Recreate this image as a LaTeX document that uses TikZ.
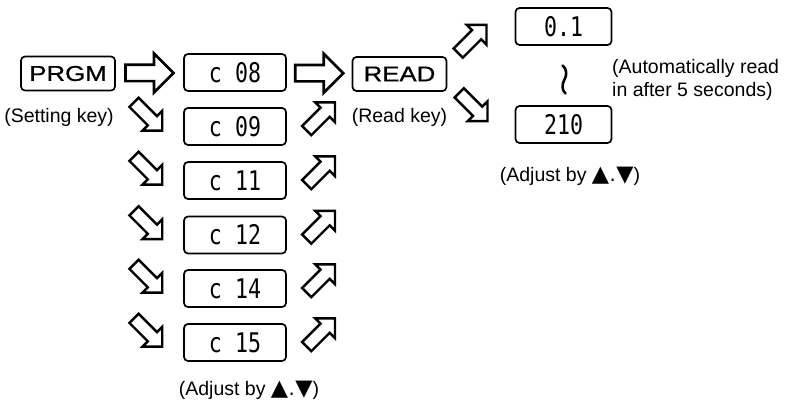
\documentclass[tikz,border=0pt]{standalone}
\usepackage{fontspec}
\setmainfont{Liberation Sans}
\newfontfamily\lcd{DejaVu Sans Mono}
\newfontfamily\keyfont[FakeBold=0.7]{Liberation Sans}
\newfontfamily\symfont{DejaVu Sans}
\usetikzlibrary{calc}
\newcommand\lcdtext[1]{\scalebox{0.8}[1]{#1}}
\newcommand\keytext[1]{\scalebox{1.2}[1]{#1}}
\newcommand\updown{{\symfont\raisebox{-0.5pt}{\scalebox{1.15}{▲}}\kern0.5pt.\kern0.5pt\raisebox{-0.5pt}{\scalebox{1.15}{▼}}}}
\begin{document}
\begin{tikzpicture}[x=1pt,y=-1pt,
  keybox/.style={draw, line width=1.7pt, rounded corners=4pt, minimum width=94pt, minimum height=34pt, inner sep=0pt, font=\keyfont\fontsize{21.5}{23}\selectfont},
  lcdbox/.style={draw, line width=1.7pt, rounded corners=4pt, minimum width=102pt, minimum height=37pt, inner sep=0pt, font=\lcd\fontsize{27}{27}\selectfont},
  valbox/.style={lcdbox, minimum width=96pt, minimum height=37pt},
  lbl/.style={font=\fontsize{19.5}{23.5}\selectfont, inner sep=0pt},
  arr/.style={draw, line width=2.6pt, fill=white, miter limit=10},
  arrd/.style={draw, line width=2.4pt, fill=white, miter limit=10},
  pics/bigarrow/.style={code={\path[arr] (-24,-8.2) -- (4.5,-8.2) -- (4.5,-19.5) -- (24,0) -- (4.5,19.5) -- (4.5,8.2) -- (-24,8.2) -- cycle;}},
  pics/diagarrow/.style={code={\path[arrd] (-20,-6.5) -- (6,-6.5) -- (6,-14) -- (20,0) -- (6,14) -- (6,6.5) -- (-20,6.5) -- cycle;}},
]
\useasboundingbox (0,0) rectangle (791,403);

% keys
\node[keybox] (prgm) at (68,73.5) {\keytext{PRGM}};
\node[lbl] (setk) at (59,117) {(Setting key)};
\node[keybox] (read) at (399.5,74) {\keytext{READ}};
\node[lbl] (readk) at (399.5,117) {(Read key)};

% parameter boxes
\node[lcdbox] (c08) at (235,72.5) {\lcdtext{c 08}};
\node[lcdbox] (c09) at (235,126.5) {\lcdtext{c 09}};
\node[lcdbox] (c11) at (235,180.5) {\lcdtext{c 11}};
\node[lcdbox] (c12) at (235,235) {\lcdtext{c 12}};
\node[lcdbox] (c14) at (235,288.5) {\lcdtext{c 14}};
\node[lcdbox] (c15) at (235,342.5) {\lcdtext{c 15}};
\node[lbl] (adj1) at (249,390) {(Adjust by \updown)};

% value boxes
\node[valbox] (v01) at (563.5,26.5) {\lcdtext{0.1}};
\node[valbox] (v210) at (563.5,124.5) {\lcdtext{210}};
\node[lbl, anchor=west, align=left] (auto) at (612,80) {(Automatically read\\in after 5 seconds)};
\node[lbl] (adj2) at (570,176) {(Adjust by \updown)};

% horizontal arrows
\pic at ($(prgm.east)!0.5!(c08.west)$) {bigarrow};
\pic at ($(c08.east)!0.5!(read.west)$) {bigarrow};

% diagonal arrows
\foreach \c in {c09,c11,c12,c14,c15}{
  \pic[rotate=-45] at ($(\c.west)+(-35,-10)$) {diagarrow};
  \pic[rotate=45] at ($(\c.east)+(34,-10)$) {diagarrow};
}
\pic[rotate=45] at ($(read.east)+(25,-35)$) {diagarrow};
\pic[rotate=-45] at ($(read.east)+(26,33)$) {diagarrow};

% wavy "through" mark
\coordinate (tl) at ($($(v01.south)!0.5!(v210.north)$)+(1,4)$);
\draw[line width=2.6pt, line cap=round] ($(tl)+(-2,-14)$) .. controls ($(tl)+(2.5,-11)$) and ($(tl)+(2.5,-4)$) .. (tl) .. controls ($(tl)+(-2.5,4)$) and ($(tl)+(-3,11)$) .. ($(tl)+(1,14)$);
\end{tikzpicture}
\end{document}
